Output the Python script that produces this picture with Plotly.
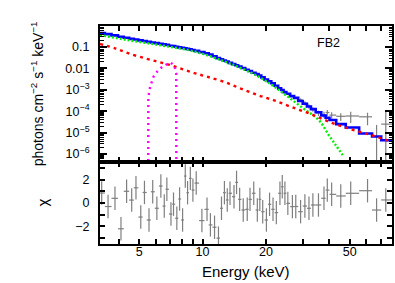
import numpy as np
import plotly.graph_objects as go
from plotly.subplots import make_subplots

# ---------------- data ----------------
E_MAX = 79.3  # upper end of band (keV)

# spectral bins (keV) and chi residuals
res_E = [3.32, 3.56, 3.84, 4.10, 4.36, 4.61, 4.83, 5.09, 5.30, 5.57, 5.80, 6.07, 6.34, 6.58, 6.77,
         7.08, 7.28, 7.55, 7.78, 8.04, 8.28, 8.49, 8.75, 9.00, 9.33, 9.93, 10.5, 10.9, 11.4, 11.9,
         12.3, 12.7, 13.1, 13.5, 14.1, 14.5, 15.0, 15.6, 16.3, 16.8, 17.5, 18.2, 18.7, 19.3, 20.1,
         20.8, 21.6, 22.4, 23.3, 23.9, 24.6, 25.4, 26.7, 27.7, 29.2, 30.6, 32.0, 33.4, 35.5, 37.7,
         39.1, 41.0, 45.3, 50.5, 60.7, 67.0, 74.1]
res_chi = [0.85, -0.3, 0.4, -2.2, 1.0, 0.25, 1.3, -1.2, 0.9, -1.45, 0.96, -0.45, 1.45, -0.26, 1.17,
           -0.94, -0.1, -1.3, 0.34, -1.45, 2.3, 0.88, 2.1, 1.1, 1.7, -1.5, -0.54, -1.87, -2.07, -3.0,
           -0.45, 0.88, 0.26, 0.83, 0.54, 1.76, 0.31, -0.6, -0.54, 0.31, 0.83, -0.6, 0.31, -0.74, -1.45,
           -0.11, -0.54, -0.82, 0.83, 1.39, 0.83, -0.03, -0.31, -0.3, -0.74, -0.26, -0.45, -0.17, -0.17, 0.4,
           1.1, 0.74, 0.6, 0.83, 1.05, -0.6, 0.26]
res_err = 1.0

# total model (binned) at each bin
model_total = [0.447, 0.398, 0.347, 0.302, 0.269, 0.240, 0.224, 0.204, 0.191, 0.174, 0.162, 0.151, 0.141,
               0.132, 0.126, 0.115, 0.110, 0.102, 0.0955, 0.0912, 0.0871, 0.0813, 0.0776, 0.0724, 0.0661,
               0.0575, 0.0513, 0.0447, 0.0372, 0.0302, 0.0269, 0.0234, 0.0209, 0.0182, 0.0158, 0.0141,
               0.0123, 0.0105, 8.7e-3, 7.6e-3, 6.3e-3, 5.4e-3, 4.6e-3, 3.8e-3, 3.0e-3, 2.5e-3, 2.04e-3,
               1.55e-3, 1.17e-3, 9.8e-4, 7.8e-4, 6.6e-4, 5.1e-4, 4.2e-4, 3.0e-4, 2.24e-4, 1.66e-4,
               1.26e-4, 8.9e-5, 6.3e-5, 5.0e-5, 3.9e-5, 2.5e-5, 1.74e-5, 9.1e-6, 6.6e-6, 4.4e-6]

# visible data points in the upper panel (high energies)
top_idx = list(range(54, 67))
top_flux = [3.4e-4, 2.4e-4, 1.7e-4, 1.2e-4, 8.3e-5, 7.0e-5, 8.7e-5, 6.6e-5, 5.8e-5, 6.0e-5, 5.5e-5, 1e-7, 2.5e-5]
top_hi = [4.0e-4, 2.9e-4, 2.1e-4, 1.5e-4, 1.07e-4, 9.5e-5, 1.15e-4, 8.9e-5, 8.1e-5, 9.5e-5, 8.5e-5, 2.3e-5, 1.15e-4]
top_lo = [2.8e-4, 1.9e-4, 1.3e-4, 9.5e-5, 6.0e-5, 4.8e-5, 6.0e-5, 4.5e-5, 3.5e-5, 2.8e-5, 2.2e-5, 1e-9, 1e-9]

# continuum component (green dotted)
green_E = [3.26, 4.43, 6.43, 9.23, 12.6, 15.1, 18.2, 21.7, 24.8, 29.9, 35.6, 39.7, 42.9, 46.3]
green_F = [0.363, 0.209, 0.117, 0.0603, 0.0219, 0.0107, 4.47e-3, 1.51e-3, 5.75e-4, 1.41e-4, 3.89e-5,
           7.8e-6, 2.6e-6, 8.9e-7]

# power-law component (red dashed)
red_E = [3.26, 3.84, 4.43, 5.34, 6.16, 7.02, 8.01, 9.23, 10.5, 12.6, 15.1, 18.2, 21.7, 26.2, 32.6,
         40.6, 50.5, 62.9, 78.3, 79.3]
red_F = [0.138, 0.0871, 0.0513, 0.0295, 0.0204, 0.0145, 9.3e-3, 5.9e-3, 4.1e-3, 2.4e-3, 1.17e-3,
         5.75e-4, 3.3e-4, 1.62e-4, 7.4e-5, 3.0e-5, 1.45e-5, 7.8e-6, 3.8e-6, 3.6e-6]

# iron line component (magenta dotted)
mag_E = [5.52, 5.53, 5.64, 5.85, 6.17, 6.52, 7.02, 7.33, 7.50, 7.51]
mag_F = [1e-8, 4.8e-4, 1.4e-3, 4.1e-3, 8.5e-3, 1.29e-2, 1.86e-2, 1.45e-2, 5.9e-3, 1e-8]

label_text = "FB2"

# ---------------- derived bin edges ----------------
E = np.array(res_E)
mid = np.sqrt(E[:-1] * E[1:])
edges = np.concatenate([[E[0] ** 2 / mid[0]], mid, [E_MAX]])
xerr_lo = E - edges[:-1]
xerr_hi = edges[1:] - E

step_x = list(edges)
step_y = list(model_total) + [model_total[-1]]

fig = make_subplots(rows=2, cols=1, shared_xaxes=True, vertical_spacing=0,
                    row_heights=[136 / 218, 82 / 218])

DATA_C = "#7f7f7f"

# top panel data crosses
tE = E[top_idx]
tf = np.array(top_flux)
fig.add_trace(go.Scatter(
    x=tE, y=tf, mode="markers", marker=dict(size=1, color=DATA_C),
    error_x=dict(type="data", symmetric=False, array=xerr_hi[top_idx], arrayminus=xerr_lo[top_idx],
                 color=DATA_C, thickness=1.2, width=0),
    error_y=dict(type="data", symmetric=False, array=np.array(top_hi) - tf, arrayminus=tf - np.array(top_lo),
                 color=DATA_C, thickness=1.2, width=0),
    showlegend=False), row=1, col=1)

# total model histogram
fig.add_trace(go.Scatter(x=step_x, y=step_y, mode="lines", line=dict(color="#0000ff", width=2.6, shape="hv"),
                         showlegend=False), row=1, col=1)
# components
fig.add_trace(go.Scatter(x=green_E, y=green_F, mode="lines", line=dict(color="#00ee00", width=2.4, dash="2px,2px", shape="spline"),
                         showlegend=False), row=1, col=1)
fig.add_trace(go.Scatter(x=red_E, y=red_F, mode="lines", line=dict(color="#ff0000", width=2.4, dash="3px,4px", shape="spline"),
                         showlegend=False), row=1, col=1)
fig.add_trace(go.Scatter(x=mag_E, y=mag_F, mode="lines", line=dict(color="#ff00ff", width=2.4, dash="2px,4px"),
                         showlegend=False), row=1, col=1)

# residuals
fig.add_hline(y=0, line=dict(color="#00ff00", width=2.6), row=2, col=1)
fig.add_trace(go.Scatter(
    x=E, y=res_chi, mode="markers", marker=dict(size=1, color=DATA_C),
    error_x=dict(type="data", symmetric=False, array=xerr_hi, arrayminus=xerr_lo,
                 color=DATA_C, thickness=1.2, width=0),
    error_y=dict(type="constant", value=res_err, color=DATA_C, thickness=1.2, width=0),
    showlegend=False), row=2, col=1)

FONT = "Liberation Sans, Arial, Helvetica, sans-serif"

x_major = [5, 10, 20, 50]
x_minor = [3, 4, 6, 7, 8, 9, 30, 40, 60, 70]
axis_common = dict(type="log", range=[np.log10(3.26), np.log10(E_MAX)], showline=True, linewidth=2,
                   linecolor="black", mirror="ticks", ticks="inside", ticklen=5, tickwidth=1.5,
                   tickcolor="black", showgrid=False, zeroline=False, automargin=False,
                   tickvals=x_major, ticktext=[str(v) for v in x_major],
                   minor=dict(tickvals=x_minor, ticks="inside", ticklen=5, tickwidth=1.5, tickcolor="black",
                              showgrid=False))
fig.update_xaxes(**axis_common, showticklabels=False, row=1, col=1)
fig.update_xaxes(**axis_common, showticklabels=True, tickfont=dict(size=12.5, color="black", family=FONT),
                 ticklabelstandoff=-5, row=2, col=1)

y_major = [1e-6, 1e-5, 1e-4, 1e-3, 0.01, 0.1]
y_text = ["10<sup>−6</sup>", "10<sup>−5</sup>", "10<sup>−4</sup>", "10<sup>−3</sup>", "0.01", "0.1"]
y_minor = [m * 10.0 ** k for k in range(-7, 0) for m in range(2, 10)]
fig.update_yaxes(type="log", range=[-6.37, -0.02], showline=True, linewidth=2, linecolor="black",
                 mirror="ticks", ticks="inside", ticklen=7, tickwidth=1.5, tickcolor="black",
                 tickvals=y_major, ticktext=y_text, showgrid=False, zeroline=False, automargin=False,
                 tickfont=dict(size=12.5, color="black", family=FONT), ticklabelstandoff=6,
                 minor=dict(tickvals=y_minor, ticks="inside", ticklen=3.5, tickwidth=1.2, tickcolor="black",
                            showgrid=False),
                 row=1, col=1)
chi_major = [-2, 0, 2]
chi_minor = [-3, -1, 1, 3]
fig.update_yaxes(range=[-3.5, 3.5], showline=True, linewidth=2, linecolor="black", mirror="ticks",
                 ticks="inside", ticklen=5, tickwidth=1.5, tickcolor="black", automargin=False,
                 tickvals=chi_major, ticktext=["−2", "0", "2"], showgrid=False, zeroline=False,
                 tickfont=dict(size=12.5, color="black", family=FONT), ticklabelstandoff=6,
                 minor=dict(tickvals=chi_minor, ticks="inside", ticklen=5, tickwidth=1.5, tickcolor="black",
                            showgrid=False),
                 row=2, col=1)

fig.update_layout(
    width=395, height=283, margin=dict(l=100, r=3, t=26, b=39, autoexpand=False),
    paper_bgcolor="white", plot_bgcolor="white", showlegend=False,
    font=dict(family=FONT, color="black"),
    annotations=[
        dict(text="photons cm<sup>−2</sup> s<sup>−1</sup> keV<sup>−1</sup>", textangle=-90,
             xref="paper", yref="paper", x=-0.215, y=0.688, xanchor="center", yanchor="middle",
             showarrow=False, font=dict(size=14, family=FONT, color="black")),
        dict(text="χ", textangle=-90, xref="paper", yref="paper", x=-0.2, y=0.188,
             xanchor="center", yanchor="middle", showarrow=False, font=dict(size=15, family=FONT, color="black")),
        dict(text="Energy (keV)", xref="paper", yref="paper", x=0.5, y=-0.128,
             xanchor="center", yanchor="middle", showarrow=False, font=dict(size=15, family=FONT, color="black")),
        dict(text=label_text, xref="paper", yref="paper", x=0.781, y=0.924,
             xanchor="center", yanchor="middle", showarrow=False, font=dict(size=12.5, family=FONT, color="black")),
    ],
)

fig.write_html("out.html", config={"displayModeBar": False},
               post_script="document.body.style.margin='0';document.body.style.padding='0';")
